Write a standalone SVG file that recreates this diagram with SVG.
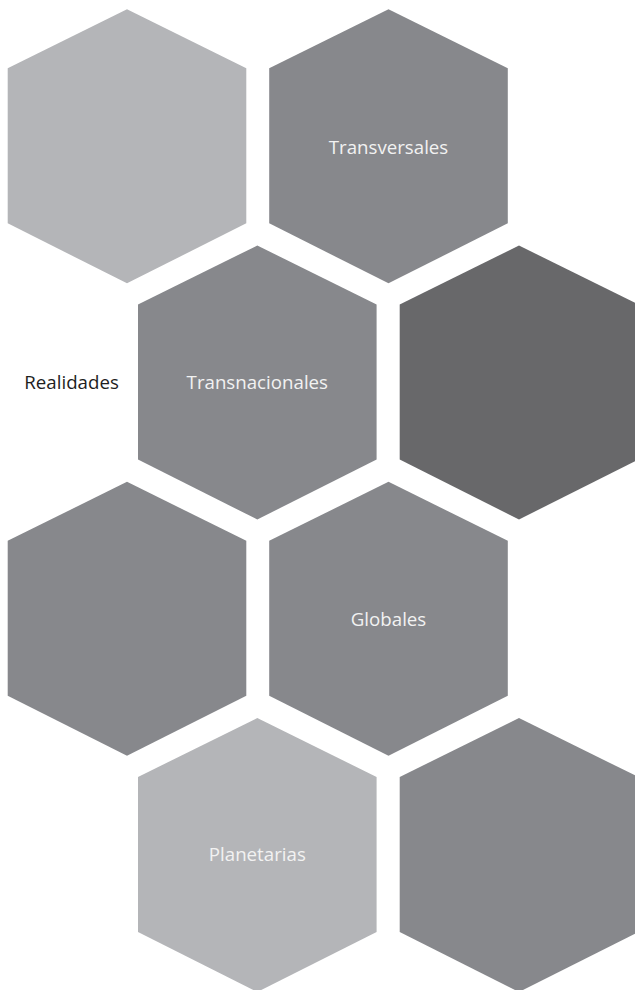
<svg xmlns="http://www.w3.org/2000/svg" width="635" height="990" viewBox="0 0 635 990">
  <defs>
    <!-- elongated pointy-top hexagon centred on the origin -->
    <polygon id="hex" points="0,-137 119.3,-78 119.3,77 0,137 -119.3,77 -119.3,-78"/>
  </defs>
  <style>
    .light { fill: #b4b5b8; }
    .mid   { fill: #87888c; }
    .dark  { fill: #68686a; }
    .lbl   { font-family: "Open Sans", "DejaVu Sans", sans-serif; font-size: 18.7px; fill: #f2f2f2; text-anchor: middle; }
    .side  { font-family: "Open Sans", "DejaVu Sans", sans-serif; font-size: 18.7px; fill: #1e1e1e; }
  </style>
  <rect width="635" height="990" fill="#ffffff"/>

  <g id="hex-1" transform="translate(127,146.3)">
    <use href="#hex" class="light"/>
  </g>
  <g id="hex-transversales" transform="translate(388.5,146.3)">
    <use href="#hex" class="mid"/>
    <text class="lbl" x="0" y="7.7">Transversales</text>
  </g>
  <g id="hex-transnacionales" transform="translate(257.3,382.5)">
    <use href="#hex" class="mid"/>
    <text class="lbl" x="0" y="6.2">Transnacionales</text>
  </g>
  <g id="hex-4" transform="translate(519,382.5)">
    <use href="#hex" class="dark"/>
  </g>
  <g id="hex-5" transform="translate(127,618.8)">
    <use href="#hex" class="mid"/>
  </g>
  <g id="hex-globales" transform="translate(388.5,618.8)">
    <use href="#hex" class="mid"/>
    <text class="lbl" x="0" y="6.9">Globales</text>
  </g>
  <g id="hex-planetarias" transform="translate(257.3,855)">
    <use href="#hex" class="light"/>
    <text class="lbl" x="0" y="5.7">Planetarias</text>
  </g>
  <g id="hex-8" transform="translate(519,855)">
    <use href="#hex" class="mid"/>
  </g>

  <g id="label-realidades">
    <text class="side" x="24.3" y="388.7">Realidades</text>
  </g>

  <g id="connectors"></g>
</svg>
